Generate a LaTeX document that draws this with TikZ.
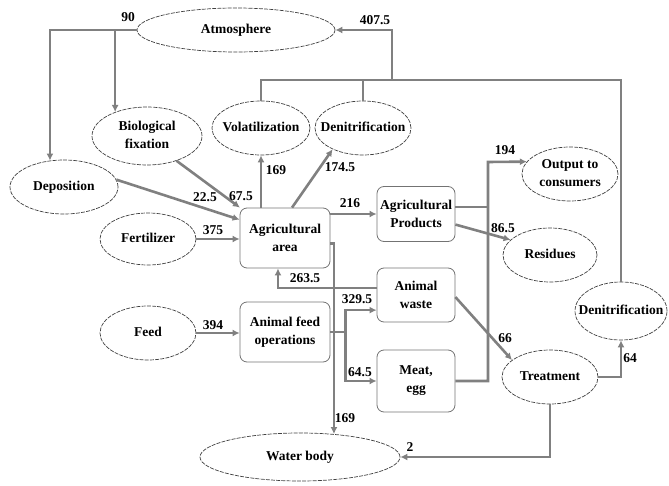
\documentclass[tikz,border=0pt]{standalone}
\usepackage{fontspec}
\setmainfont{Liberation Serif}
\usetikzlibrary{positioning,shapes.geometric,arrows.meta}
\newcommand{\etext}[1]{\makebox[0pt]{\begin{tabular}{@{}c@{}}#1\end{tabular}}}
\begin{document}
\begin{tikzpicture}[
  x=1pt, y=-1pt,
  font=\fontsize{13.5}{18}\selectfont\bfseries,
  ell/.style={ellipse, draw=black!75, dash pattern=on 4pt off 1.2pt,
              line width=0.7pt, inner sep=0pt},
  box/.style={draw=black!55, rounded corners=7pt, line width=0.8pt,
              align=center, inner sep=2pt},
  pipe/.style={draw=black!50, line width=2.6pt},
  flow/.style={pipe, -{Latex[length=7pt,width=7pt]}},
  lab/.style={inner sep=0pt}
]
\useasboundingbox (0,0) rectangle (669,486);
% sources and sinks
\node[ell, minimum width=198pt, minimum height=44pt] (atm) at (236,30) {\etext{Atmosphere}};
\node[ell, minimum width=110pt, minimum height=58pt] (bio) at (147,136) {\etext{Biological\\fixation}};
\node[ell, minimum width=98pt, minimum height=54pt] (vol) at (261,128) {\etext{Volatilization}};
\node[ell, minimum width=96pt, minimum height=54pt] (dnt) at (363,128) {\etext{Denitrification}};
\node[ell, minimum width=108pt, minimum height=54pt] (dep) at (64,187) {\etext{Deposition}};
\node[ell, minimum width=96pt, minimum height=52pt] (fer) at (148,239) {\etext{Fertilizer}};
\node[ell, minimum width=96pt, minimum height=54pt] (feed) at (148,333) {\etext{Feed}};
\node[ell, minimum width=96pt, minimum height=54pt] (out) at (570,174) {\etext{Output to\\consumers}};
\node[ell, minimum width=94pt, minimum height=54pt] (res) at (550,255) {\etext{Residues}};
\node[ell, minimum width=92pt, minimum height=58pt] (dnr) at (621,311) {\etext{Denitrification}};
\node[ell, minimum width=96pt, minimum height=54pt] (tre) at (550,377) {\etext{Treatment}};
\node[ell, minimum width=200pt, minimum height=48pt] (wat) at (300,457) {\etext{Water body}};
% compartments
\node[box, minimum width=90pt, minimum height=60pt] (agr) at (285,238) {Agricultural\\area};
\node[box, minimum width=90pt, minimum height=60pt] (afo) at (285,332) {Animal feed\\operations};
\node[box, minimum width=78pt, minimum height=55pt] (agp) at (416,214) {Agricultural\\Products};
\node[box, minimum width=78pt, minimum height=54pt] (aw) at (416,295) {Animal\\waste};
\node[box, minimum width=78pt, minimum height=62pt] (meat) at (416,381) {Meat,\\egg};
% junctions
\coordinate (col) at (392,80);
\coordinate (cons) at (488,162);
% flows
\draw[flow] (atm.west) -| (dep.118);
\draw[flow] (bio.143 |- atm.west) -- (bio.143);
\draw[pipe] (vol.north) |- (col) -| (dnr.north);
\draw[pipe] (dnt.north) -- (dnt.north |- col);
\draw[flow] (col) |- (atm.east);
\draw[flow] (dep.8) -- (agr.158);
\draw[flow] (bio.-40) -- (agr.146);
\draw[flow] (fer.east) -- (fer.east -| agr.west);
\draw[flow] (feed.east) -- (feed.east -| afo.west);
\draw[flow] (vol.south |- agr.north) -- (vol.south);
\draw[flow] (agr.77) -- (dnt.215);
\draw[flow] (agp.west -| agr.east) -- (agp.west);
\draw[flow] (agr.-7) -| (wat.34);
\draw[flow] (aw.170) -| (agr.-103);
\draw[pipe] (afo.east) -- ++(15,0) coordinate (split);
\draw[flow] (split) |- (aw.201);
\draw[flow] (split) |- (meat.west);
\draw[pipe] (agp.10) -- (agp.10 -| cons);
\draw[flow] (meat.east) -| (cons) -- (out.164);
\draw[flow] (agp.-15) -- (res.159);
\draw[flow] (aw.-3) -- (tre.156);
\draw[flow] (tre.east) -| (dnr.south);
\draw[flow] (tre.south) |- (wat.east);
% values
\node[lab] (l90) at (128,17) {90};
\node[lab] (l4075) at (375,20) {407.5};
\node[lab] (l225) at (205,197) {22.5};
\node[lab] (l675) at (241,196) {67.5};
\node[lab] (l375) at (213,230) {375};
\node[lab] (l394) at (213,325) {394};
\node[lab] (l169a) at (276,170) {169};
\node[lab] (l1745) at (340,167) {174.5};
\node[lab] (l216) at (350,203) {216};
\node[lab] (l194) at (505,150) {194};
\node[lab] (l865) at (503,228) {86.5};
\node[lab] (l2635) at (305,278) {263.5};
\node[lab] (l3295) at (357,299) {329.5};
\node[lab] (l645) at (360,372) {64.5};
\node[lab] (l66) at (505,338) {66};
\node[lab] (l64) at (630,358) {64};
\node[lab] (l169b) at (345,418) {169};
\node[lab] (l2) at (410,447) {2};
\end{tikzpicture}
\end{document}
